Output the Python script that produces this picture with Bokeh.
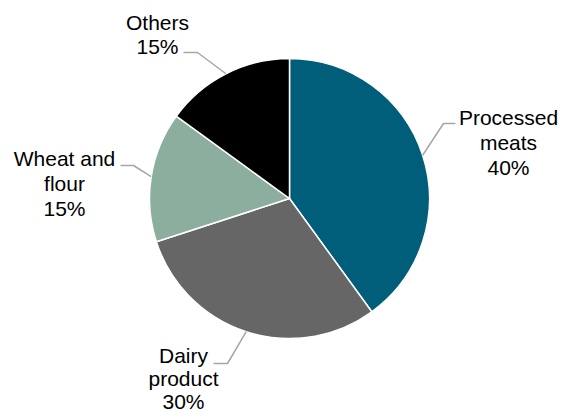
import math
from bokeh.plotting import figure
from bokeh.models import Range1d, ColumnDataSource
from bokeh.core.properties import value
from bokeh.embed import file_html
from bokeh.resources import INLINE

categories = ["Processed meats", "Dairy product", "Wheat and flour", "Others"]
label_lines = [["Processed", "meats"], ["Dairy", "product"], ["Wheat and", "flour"], ["Others"]]
shares = [40, 30, 15, 15]
colors = ["#005E7A", "#666666", "#8CAE9E", "#000000"]

# layout (screen pixels; data y = H - screen y)
W, H = 568, 412
cx, cy, r = 289, 198, 140
# label block centre (screen), elbow point, horizontal end x
label_pos = [(508, 142), (183, 378), (64, 183), (157, 34)]
elbows = [(443, 123), (227, 363), (133, 165), (197, 52)]
hend = [455, 213, 120, 183]
line_hs = [25, 23, 25, 24]
font_size = "21px"

p = figure(width=W, height=H, output_backend="svg", toolbar_location=None,
           x_range=Range1d(0, W), y_range=Range1d(0, H), min_border=0)
p.axis.visible = False
p.grid.visible = False
p.outline_line_color = None
p.background_fill_color = "white"

total = sum(shares)
starts, ends, mids = [], [], []
acc = 0
for s in shares:
    a0 = math.pi / 2 - 2 * math.pi * acc / total
    acc += s
    a1 = math.pi / 2 - 2 * math.pi * acc / total
    starts.append(a0)
    ends.append(a1)
    mids.append((a0 + a1) / 2)

src = ColumnDataSource(dict(start=starts, end=ends, color=colors))
p.wedge(x=cx, y=H - cy, radius=r, start_angle="start", end_angle="end",
        direction="clock", fill_color="color", line_color="white", line_width=1.5, source=src)

for i, cat in enumerate(categories):
    m = mids[i]
    ex = cx + r * math.cos(m)
    ey = cy - r * math.sin(m)
    bx, by = elbows[i]
    p.line([ex, bx, hend[i]], [H - ey, H - by, H - by], line_color="#A6A6A6", line_width=1.5)
    lines = label_lines[i] + [f"{shares[i]}%"]
    lx, ly = label_pos[i]
    n = len(lines)
    ys = [ly + (k - (n - 1) / 2) * line_hs[i] for k in range(n)]
    p.text(x=[lx] * n, y=[H - y for y in ys], text=lines, text_align="center",
           text_baseline="middle", text_font=value("Liberation Sans"),
           text_font_size=font_size, text_color="#000000")

open("out.html", "w").write(file_html(p, INLINE))
